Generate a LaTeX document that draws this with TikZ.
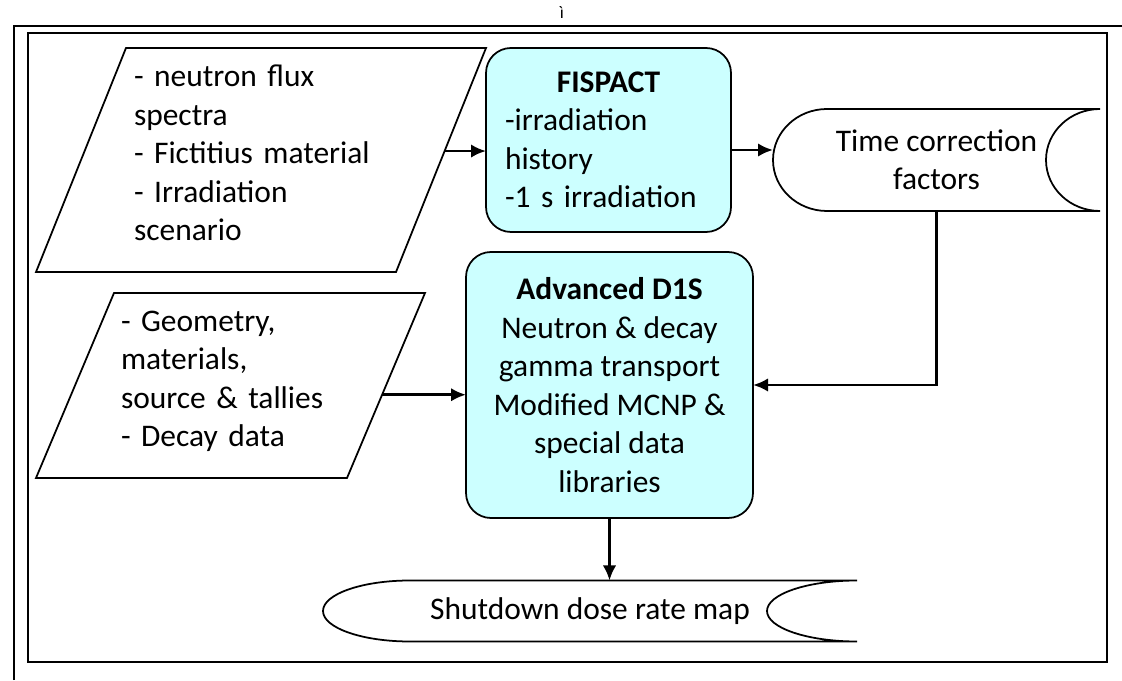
\documentclass[tikz,border=0pt]{standalone}
\usepackage{fontspec}
\setmainfont{Carlito}
\usepackage{tikz}
\usetikzlibrary{arrows.meta}
\definecolor{procfill}{RGB}{204,255,255}
\tikzstyle{proc}=[draw,line width=1pt,fill=procfill,rounded corners=0.5cm,outer sep=0pt,align=center]
\tikzstyle{inp}=[inner sep=0pt,outer sep=0pt,align=left]
\tikzstyle{store}=[inner sep=0pt,outer sep=0pt,align=center]
\tikzstyle{flow}=[line width=1.6pt,-{Latex[length=0.3cm,width=0.27cm]}]
\newcommand{\bigfont}{\fontsize{17.9}{21.9}\selectfont}
\newcommand{\storedout}[4]{%
    \draw[line width=1pt] ([xshift=#2]#1.north west) -- (#1.north east)
        arc[start angle=90,end angle=270,x radius=#3,y radius=#4]
        -- ([xshift=#2]#1.south west)
        arc[start angle=270,end angle=90,x radius=#2,y radius=#4] -- cycle;}
\newcommand{\paraout}[2]{%
    \draw[line width=1pt] ([xshift=#2]#1.north west) -- ([xshift=#2]#1.north east)
        -- ([xshift=-#2]#1.south east) -- ([xshift=-#2]#1.south west) -- cycle;}

\begin{document}
\begin{tikzpicture}[font=\bigfont]
    \useasboundingbox (0,0) rectangle (22.44,13.6);
    \draw[line width=1pt] (0.28,0) -- (0.28,13.08) -- (22.44,13.08);
    \draw[line width=1pt] (0.56,0.36) rectangle (22.14,12.94);
    \node[font=\fontsize{10}{12}\selectfont] (mark) at (11.24,13.34) {ì};
    \node[inp,minimum width=7.2cm,minimum height=4.48cm] (flux) at (5.22,10.4) {};
    \paraout{flux}{0.9cm}
    \node[inp,text width=5.08cm] (fluxtxt) at ([yshift=0.14cm]flux.center)
          {- neutron flux\\spectra\\- Fictitius material\\- Irradiation\\scenario};
    \node[inp,minimum width=6.22cm,minimum height=3.7cm] (geo) at (4.61,5.89) {};
    \paraout{geo}{0.78cm}
    \node[inp,text width=4.38cm] (geotxt) at ([yshift=0.08cm]geo.center)
          {- Geometry,\\materials,\\source \& tallies\\- Decay data};
    \node[proc,minimum width=4.9cm,minimum height=3.68cm,text width=4.14cm,align=left] (fis) at (12.17,10.8)
          {\makebox[4.14cm]{\textbf{FISPACT}}\\-irradiation\\history\\-1 s irradiation};
    \node[proc,minimum width=5.74cm,minimum height=5.32cm] (d1s) at (12.19,5.9)
          {\textbf{Advanced D1S}\\Neutron \& decay\\gamma transport\\Modified MCNP \&\\special data\\libraries};
    \node[store,minimum width=6.54cm,minimum height=2.04cm] (tcf) at (18.73,10.4) {Time correction\\factors};
    \storedout{tcf}{1.08cm}{1.08cm}{1.02cm}
    \node[store,minimum width=10.68cm,minimum height=1.22cm] (sdr) at (11.8,1.38) {Shutdown dose rate map};
    \storedout{sdr}{1.74cm}{1.8cm}{0.61cm}
%    arrows
    \path ([xshift=0.9cm]flux.north east) -- ([xshift=-0.9cm]flux.south east) coordinate[pos=0.46] (fluxout);
    \path ([xshift=0.78cm]geo.north east) -- ([xshift=-0.78cm]geo.south east) coordinate[pos=0.55] (geoout);
    \draw[flow] (fluxout) -- (fluxout -| fis.west);
    \draw[flow] ([yshift=-0.2cm]fis.east) -- ([yshift=-0.2cm]fis.east -| tcf.west);
    \draw[flow] (geoout) -- (geoout -| d1s.west);
    \draw[flow] (tcf.south) |- (d1s.east);
    \draw[flow] (d1s.south) -- (d1s.south |- sdr.north);
\end{tikzpicture}
\end{document}
